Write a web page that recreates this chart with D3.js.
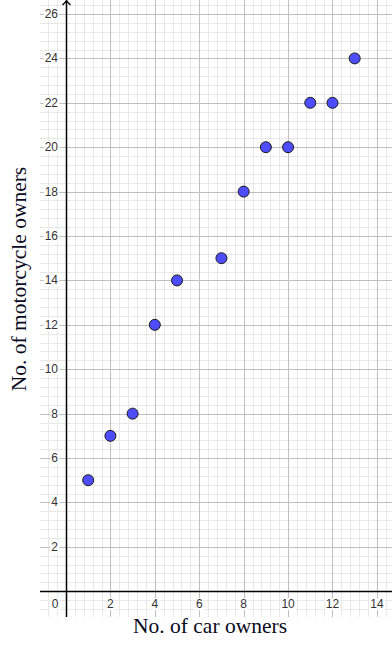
<!DOCTYPE html>
<html><head><meta charset="utf-8">
<script src="https://cdn.jsdelivr.net/npm/d3@7"></script>
<style>body{margin:0;background:#fff}svg{display:block}</style>
</head><body>
<svg id="c" width="392" height="645"></svg>
<script>
const carOwners = [1, 2, 3, 4, 5, 7, 8, 9, 10, 11, 12, 13];
const motorcycleOwners = [5, 7, 8, 12, 14, 15, 18, 20, 20, 22, 22, 24];
const xTicks = [2, 4, 6, 8, 10, 12, 14];
const yTicks = [2, 4, 6, 8, 10, 12, 14, 16, 18, 20, 22, 24, 26];
const xTitle = "No. of car owners";
const yTitle = "No. of motorcycle owners";

const svg = d3.select("#c");
const L = 40, R = 392, T = 0, B = 617;
const x = d3.scaleLinear().domain([-1.17, 14.68]).range([L, R]);
const y = d3.scaleLinear().domain([-1.16, 26.63]).range([B, T]);

const g = svg.append("g");
// minor grid
const minorX = d3.range(-0.8, 14.7, 0.4).filter(v => Math.abs(v / 2 - Math.round(v / 2)) > 0.01);
const minorY = d3.range(-0.8, 26.7, 0.4).filter(v => Math.abs(v / 2 - Math.round(v / 2)) > 0.01);
g.selectAll(".mx").data(minorX).enter().append("line")
  .attr("x1", d => Math.round(x(d)) + 0.5).attr("x2", d => Math.round(x(d)) + 0.5)
  .attr("y1", T).attr("y2", B).attr("stroke", "#e8e8e8").attr("stroke-width", 1);
g.selectAll(".my").data(minorY).enter().append("line")
  .attr("y1", d => Math.round(y(d)) + 0.5).attr("y2", d => Math.round(y(d)) + 0.5)
  .attr("x1", L).attr("x2", R).attr("stroke", "#e8e8e8").attr("stroke-width", 1);
// major grid
const majorX = d3.range(0, 15, 2);
const majorY = d3.range(0, 27, 2);
g.selectAll(".Mx").data(majorX.filter(v => v !== 0)).enter().append("line")
  .attr("x1", d => Math.round(x(d)) + 0.5).attr("x2", d => Math.round(x(d)) + 0.5)
  .attr("y1", T).attr("y2", B).attr("stroke", "#c0c0c0").attr("stroke-width", 1);
g.selectAll(".My").data(majorY.filter(v => v !== 0)).enter().append("line")
  .attr("y1", d => Math.round(y(d)) + 0.5).attr("y2", d => Math.round(y(d)) + 0.5)
  .attr("x1", L).attr("x2", R).attr("stroke", "#c0c0c0").attr("stroke-width", 1);

// tick labels with white background
function label(txt, px, py, anchor) {
  const t = svg.append("text").attr("x", px).attr("y", py)
    .attr("text-anchor", anchor).attr("dominant-baseline", "central")
    .attr("font-family", "Liberation Sans, Arial, sans-serif").attr("font-size", 12)
    .attr("fill", "#333").text(txt);
  const bb = t.node().getBBox();
  svg.insert("rect", () => t.node()).attr("x", bb.x - 1).attr("y", bb.y + 1)
    .attr("width", bb.width + 2).attr("height", bb.height - 2).attr("fill", "#fff");
}
yTicks.forEach(v => label(String(v), 58, y(v), "end"));
xTicks.forEach(v => label(String(v), x(v), 604, "middle"));
label("0", 55, 604, "middle");

// axes
const ax0 = Math.round(x(0)) + 0.5, ay0 = Math.round(y(0)) + 0.5;
svg.append("line").attr("x1", L).attr("x2", R).attr("y1", ay0).attr("y2", ay0)
  .attr("stroke", "#000").attr("stroke-width", 1.5);
svg.append("line").attr("x1", ax0).attr("x2", ax0).attr("y1", B).attr("y2", T)
  .attr("stroke", "#000").attr("stroke-width", 1.5);
svg.append("path").attr("d", `M${ax0 - 4},${T + 5} L${ax0},${T + 1} L${ax0 + 4},${T + 5}`)
  .attr("fill", "none").attr("stroke", "#000").attr("stroke-width", 1.3);

// points
svg.selectAll(".pt").data(carOwners.map((c, i) => [c, motorcycleOwners[i]])).enter()
  .append("circle").attr("cx", d => x(d[0])).attr("cy", d => y(d[1])).attr("r", 5.5)
  .attr("fill", "#4d4dff").attr("stroke", "#1a1a1a").attr("stroke-width", 1);

// titles
svg.append("text").attr("x", 210).attr("y", 633).attr("text-anchor", "middle")
  .attr("font-family", "Liberation Serif, DejaVu Serif, serif").attr("font-size", 21.5)
  .attr("fill", "#0a0a1e").text(xTitle);
svg.append("text").attr("transform", "translate(26,279) rotate(-90)").attr("text-anchor", "middle")
  .attr("font-family", "Liberation Serif, DejaVu Serif, serif").attr("font-size", 21.5)
  .attr("fill", "#0a0a1e").text(yTitle);
</script>
</body></html>
